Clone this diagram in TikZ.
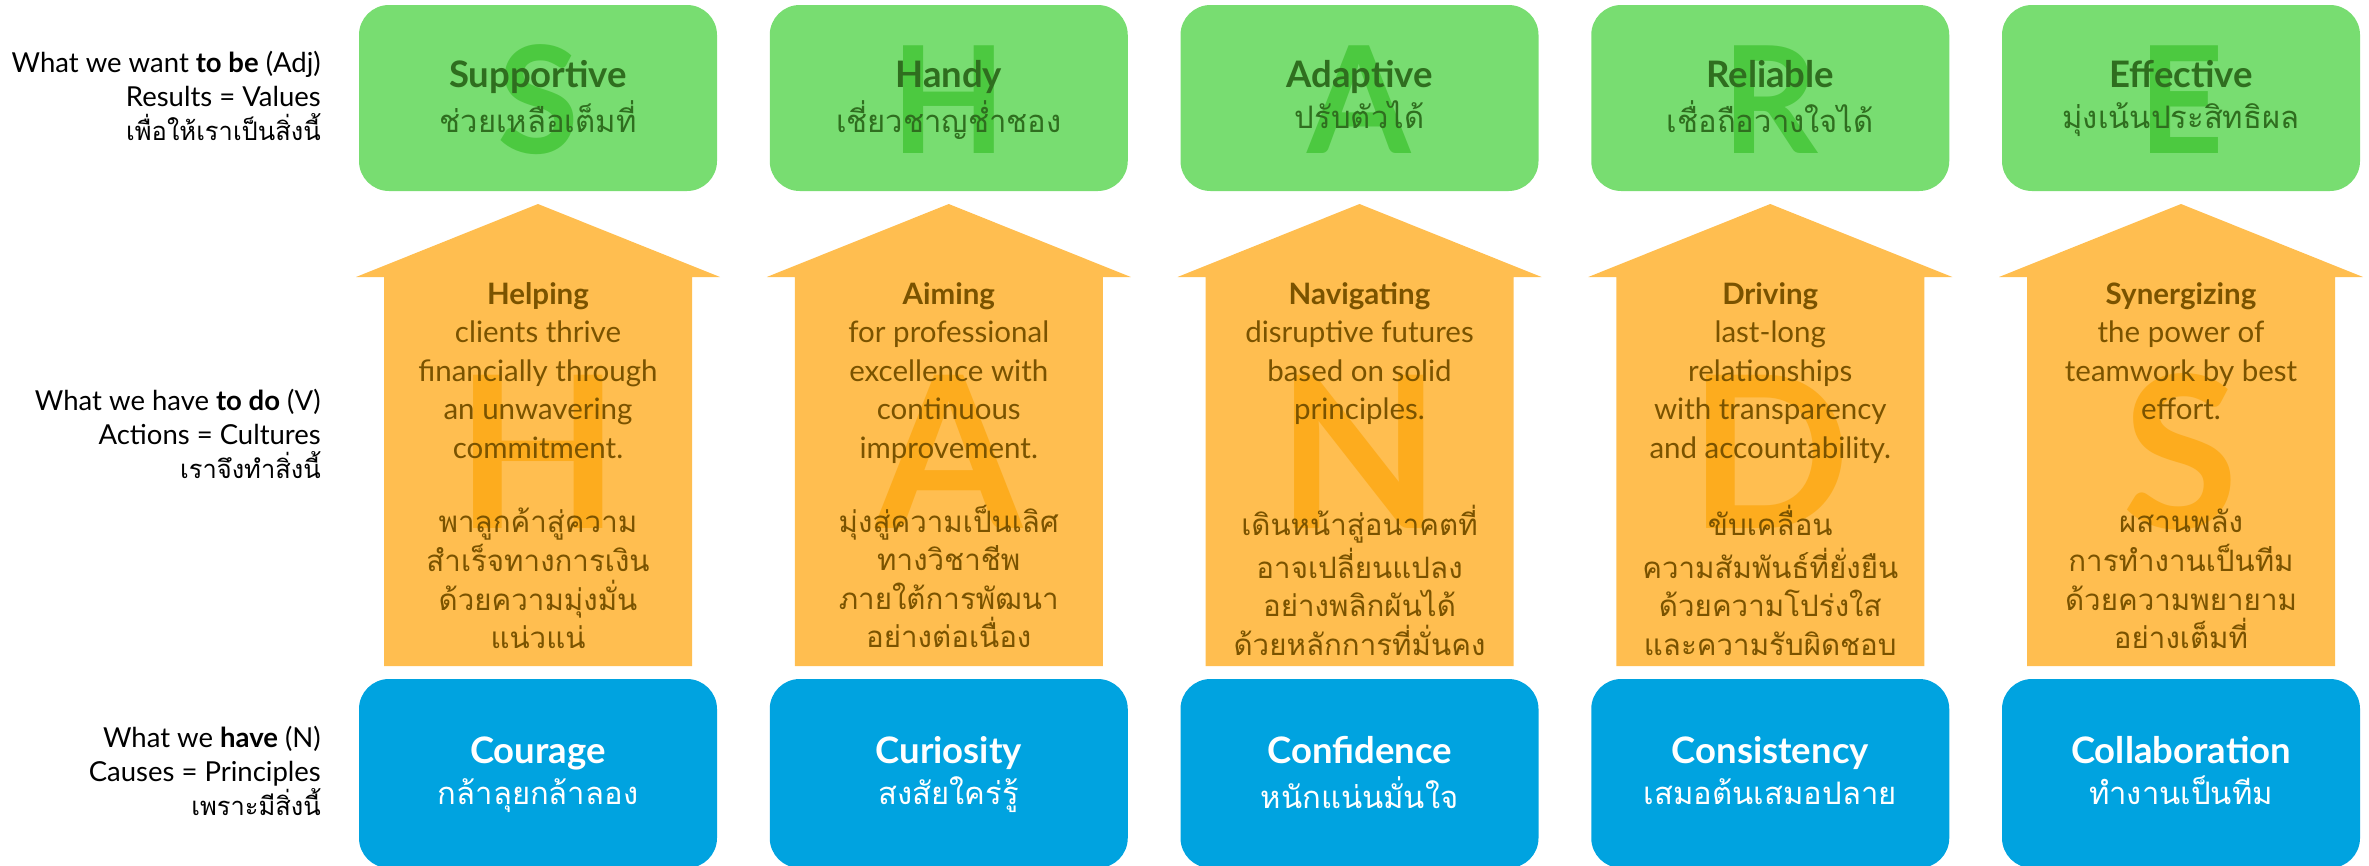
\documentclass[tikz,border=0pt]{standalone}
\usepackage{fontspec}
\setmainfont{Lato}
\newfontfamily\thai[Script=Thai]{Loma}
\definecolor{gfill}{HTML}{78DD71}
\definecolor{gwm}{HTML}{4CC940}
\definecolor{gtxt}{HTML}{2F6E1F}
\definecolor{ofill}{HTML}{FFBE50}
\definecolor{owm}{HTML}{FDAC1E}
\definecolor{otxt}{HTML}{7A5300}
\definecolor{bfill}{HTML}{00A3E0}
\newcommand\thl{\thai\fontsize{25.5}{34}\selectfont}
\newcommand\tht{\thai\fontsize{31}{41.5}\selectfont}
\begin{document}
\begin{tikzpicture}[x=1pt,y=-1pt,
  lbl/.style={anchor=north east, inner sep=0pt, align=right, font=\fontsize{27.5}{34}\selectfont, text=black},
  ttl/.style={anchor=north, inner sep=0pt, align=center, font=\fontsize{36.5}{41.5}\selectfont},
  body/.style={anchor=north, inner sep=0pt, align=center, font=\fontsize{29.5}{38.5}\selectfont, text=otxt},
  thbody/.style={anchor=north, inner sep=0pt, align=center, font=\fontsize{29.5}{38.5}\selectfont\thai, text=otxt},
  gwmk/.style={inner sep=0pt, text=gwm, font=\fontsize{149}{149}\selectfont\bfseries},
  owmk/.style={inner sep=0pt, text=owm, font=\fontsize{212}{212}\selectfont\bfseries}]
\useasboundingbox (0,0) rectangle (2369,865);
\foreach \c in {538,948.75,1359.5,1770.25,2181}{
  \fill[gfill, rounded corners=30pt] (\c-179,5) rectangle (\c+179,191);
  \fill[ofill] (\c,204) -- (\c+182,277) -- (\c+154,277) -- (\c+154,666) -- (\c-154,666) -- (\c-154,277) -- (\c-182,277) -- cycle;
  \fill[bfill, rounded corners=30pt] (\c-179,679) rectangle (\c+179,868);
}
% left labels
\node[lbl] (l1) at (321,48.2) {\strut What we want \textbf{to be} (Adj)\\Results = Values\\{\thl เพื่อให้เราเป็นสิ่งนี้}};
\node[lbl] (l2) at (321,386.2) {\strut What we have \textbf{to do} (V)\\Actions = Cultures\\{\thl เราจึงทำสิ่งนี้}};
\node[lbl] (l3) at (321,723.2) {\strut What we \textbf{have} (N)\\Causes = Principles\\{\thl เพราะมีสิ่งนี้}};
% watermarks green
\node[gwmk] (wg1) at (538,100) {S};
\node[gwmk] (wg2) at (948.75,100) {H};
\node[gwmk] (wg3) at (1359.5,100) {A};
\node[gwmk] (wg4) at (1770.25,100) {R};
\node[gwmk] (wg5) at (2181,100) {E};
% watermarks orange
\node[owmk] (wo1) at (538,452) {H};
\node[owmk] (wo2) at (948.75,452) {A};
\node[owmk] (wo3) at (1359.5,452) {N};
\node[owmk] (wo4) at (1770.25,452) {D};
\node[owmk] (wo5) at (2181,452) {S};
% green titles
\node[ttl, text=gtxt] (g1) at (538,58) {\strut\textbf{Supportive}\\{\tht ช่วยเหลือเต็มที่}};
\node[ttl, text=gtxt] (g2) at (948.75,58) {\strut\textbf{Handy}\\{\tht เชี่ยวชาญช่ำชอง}};
\node[ttl, text=gtxt] (g3) at (1359.5,58) {\strut\textbf{Adaptive}\\{\tht ปรับตัวได้}};
\node[ttl, text=gtxt] (g4) at (1770.25,58) {\strut\textbf{Reliable}\\{\tht เชื่อถือวางใจได้}};
\node[ttl, text=gtxt] (g5) at (2181,58) {\strut\textbf{Effective}\\{\tht มุ่งเน้นประสิทธิผล}};
% arrow english
\node[body] (e1) at (538,277) {\strut\textbf{Helping}\\clients thrive\\financially through\\an unwavering\\commitment.};
\node[body] (e2) at (948.75,277) {\strut\textbf{Aiming}\\for professional\\excellence with\\continuous\\improvement.};
\node[body] (e3) at (1359.5,277) {\strut\textbf{Navigating}\\disruptive futures\\based on solid\\principles.};
\node[body] (e4) at (1770.25,277) {\strut\textbf{Driving}\\last-long\\relationships\\with transparency\\and accountability.};
\node[body] (e5) at (2181,277) {\strut\textbf{Synergizing}\\the power of\\teamwork by best\\effort.};
% arrow thai
\node[thbody] (t1) at (538,505) {\strut พาลูกค้าสู่ความ\\สำเร็จทางการเงิน\\ด้วยความมุ่งมั่น\\แน่วแน่};
\node[thbody] (t2) at (948.75,505) {\strut มุ่งสู่ความเป็นเลิศ\\ทางวิชาชีพ\\ภายใต้การพัฒนา\\อย่างต่อเนื่อง};
\node[thbody] (t3) at (1359.5,505) {\strut เดินหน้าสู่อนาคตที่\\อาจเปลี่ยนแปลง\\อย่างพลิกผันได้\\ด้วยหลักการที่มั่นคง};
\node[thbody] (t4) at (1770.25,505) {\strut ขับเคลื่อน\\ความสัมพันธ์ที่ยั่งยืน\\ด้วยความโปร่งใส\\และความรับผิดชอบ};
\node[thbody] (t5) at (2181,505) {\strut ผสานพลัง\\การทำงานเป็นทีม\\ด้วยความพยายาม\\อย่างเต็มที่};
% blue titles
\node[ttl, text=white] (b1) at (538,734) {\strut\textbf{Courage}\\{\tht กล้าลุยกล้าลอง}};
\node[ttl, text=white] (b2) at (948.75,734) {\strut\textbf{Curiosity}\\{\tht สงสัยใคร่รู้}};
\node[ttl, text=white] (b3) at (1359.5,734) {\strut\textbf{Confidence}\\{\tht หนักแน่นมั่นใจ}};
\node[ttl, text=white] (b4) at (1770.25,734) {\strut\textbf{Consistency}\\{\tht เสมอต้นเสมอปลาย}};
\node[ttl, text=white] (b5) at (2181,734) {\strut\textbf{Collaboration}\\{\tht ทำงานเป็นทีม}};
\end{tikzpicture}
\end{document}
